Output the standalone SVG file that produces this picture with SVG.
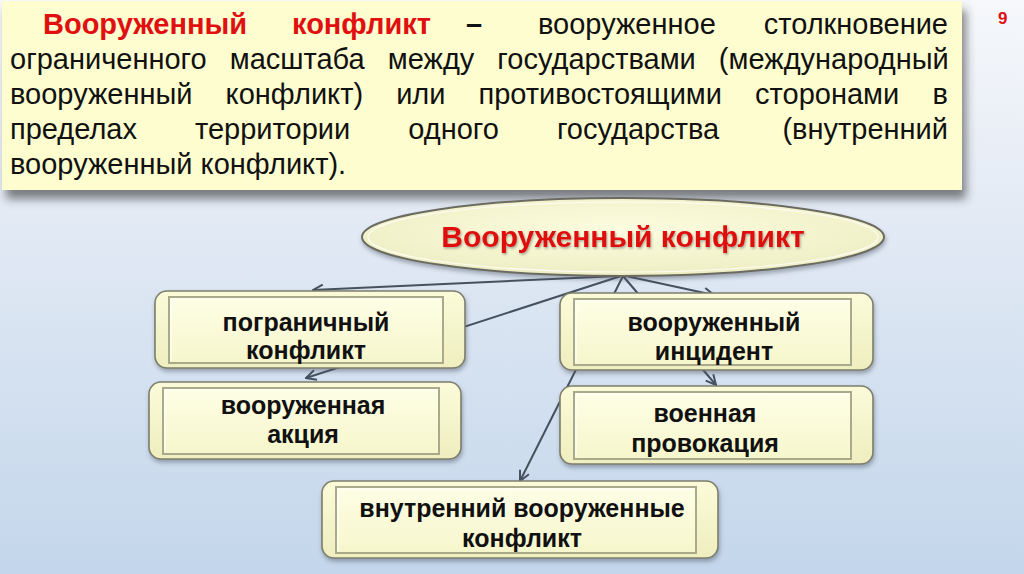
<svg xmlns="http://www.w3.org/2000/svg" width="1024" height="574" viewBox="0 0 1024 574">
<defs>
<linearGradient id="bg" x1="0" y1="0" x2="0" y2="1"><stop offset="0" stop-color="#f6f8fb"/><stop offset="0.35" stop-color="#e4ebf5"/><stop offset="1" stop-color="#c3d6eb"/></linearGradient>
<linearGradient id="yel" x1="0" y1="0" x2="0" y2="1"><stop offset="0" stop-color="#fbfbd9"/><stop offset="1" stop-color="#eeeebf"/></linearGradient>
<linearGradient id="inner" x1="0" y1="0" x2="0" y2="1"><stop offset="0" stop-color="#fefee6"/><stop offset="1" stop-color="#f6f6cc"/></linearGradient>
<radialGradient id="ell" cx="0.5" cy="0.4" r="0.6"><stop offset="0" stop-color="#fdfde0"/><stop offset="1" stop-color="#eeeec4"/></radialGradient>
<filter id="sh" x="-5%" y="-10%" width="115%" height="135%"><feDropShadow dx="1" dy="3" stdDeviation="2" flood-color="#4a5560" flood-opacity="0.45"/></filter>
<filter id="bigsh" x="-3%" y="-5%" width="108%" height="125%"><feDropShadow dx="4" dy="9" stdDeviation="5" flood-color="#333" flood-opacity="0.6"/></filter>
<filter id="tsh" x="-5%" y="-20%" width="110%" height="150%"><feDropShadow dx="1" dy="1.5" stdDeviation="1" flood-color="#555" flood-opacity="0.5"/></filter>
<marker id="arr" viewBox="0 0 12 12" refX="11" refY="6" markerWidth="12" markerHeight="12" markerUnits="userSpaceOnUse" orient="auto"><path d="M1,1 L11,6 L1,11" fill="none" stroke="#45515e" stroke-width="2"/></marker>
</defs>
<style>
.def{font-family:"Liberation Sans",Arial,sans-serif;font-size:29px;fill:#111}
.red{font-weight:bold;fill:#e01010}
.b{font-weight:bold}
.lbl{font-family:"Liberation Sans",Arial,sans-serif;font-size:25px;font-weight:bold;fill:#111;text-anchor:middle}
.obox{fill:url(#yel);stroke:#7d7d6c;stroke-width:1.6}
.ibox{fill:url(#inner);stroke:#a9a98c;stroke-width:2}
.hl{fill:none;stroke:#ffffff;stroke-width:1.2;opacity:0.9}
.con{fill:none;stroke:#45515e;stroke-width:2;marker-end:url(#arr)}
</style>
<rect width="1024" height="574" fill="url(#bg)"/>

<g id="definition">
<rect x="2" y="1" width="960" height="189" fill="#fdfdd0" filter="url(#bigsh)"/>
<text class="def" y="34"><tspan class="red" x="43">Вооруженный</tspan><tspan class="red" x="292">конфликт</tspan><tspan class="b" x="466">–</tspan><tspan x="538">вооруженное</tspan></text>
<text class="def" x="948" y="34" text-anchor="end">столкновение</text>
<text class="def" x="10" y="69" word-spacing="15">ограниченного масштаба между государствами (международный</text>
<text class="def" x="10" y="104" word-spacing="25">вооруженный конфликт) или противостоящими сторонами</text>
<text class="def" x="948" y="104" text-anchor="end">в</text>
<text class="def" x="10" y="139" word-spacing="50">пределах территории одного государства</text>
<text class="def" x="948" y="139" text-anchor="end">(внутренний</text>
<text class="def" x="10" y="174">вооруженный конфликт).</text>
</g>
<text x="998" y="24" font-family="Liberation Sans,Arial,sans-serif" font-size="17" font-weight="bold" fill="#e01010">9</text>

<g id="connectors">
<path class="con" d="M618,276 L313,290"/>
<path class="con" d="M621,276 L306,378"/>
<path class="con" d="M626,276 L714,295"/>
<path class="con" d="M623,276 L520,481"/>
<path class="con" d="M623,276 L716,385"/>
</g>

<g id="root">
<ellipse cx="623" cy="237" rx="261" ry="39" fill="url(#ell)" stroke="#6b6b60" stroke-width="2" filter="url(#sh)"/>
<ellipse cx="623" cy="237" rx="255" ry="35" fill="none" stroke="#ffffff" stroke-width="1.2" opacity="0.8"/>
<text x="623" y="247" font-family="Liberation Sans,Arial,sans-serif" font-size="30" font-weight="bold" fill="#e01010" text-anchor="middle" filter="url(#tsh)">Вооруженный конфликт</text>
</g>

<g id="border">
<rect class="obox" x="155" y="291" width="310" height="77" rx="12" filter="url(#sh)"/>
<rect class="ibox" x="169" y="297" width="274" height="66"/>
<path class="hl" d="M171,361 V299 H441"/>
<text class="lbl" x="306" y="331">пограничный</text>
<text class="lbl" x="306" y="359">конфликт</text>
</g>

<g id="action">
<rect class="obox" x="149" y="382" width="312" height="77" rx="12" filter="url(#sh)"/>
<rect class="ibox" x="163" y="388" width="276" height="66"/>
<path class="hl" d="M165,452 V390 H437"/>
<text class="lbl" x="303" y="414">вооруженная</text>
<text class="lbl" x="303" y="443">акция</text>
</g>

<g id="incident">
<rect class="obox" x="560" y="293" width="313" height="77" rx="12" filter="url(#sh)"/>
<rect class="ibox" x="574" y="299" width="277" height="66"/>
<path class="hl" d="M576,363 V301 H849"/>
<text class="lbl" x="714" y="331">вооруженный</text>
<text class="lbl" x="714" y="360">инцидент</text>
</g>

<g id="provocation">
<rect class="obox" x="560" y="386" width="313" height="78" rx="12" filter="url(#sh)"/>
<rect class="ibox" x="574" y="392" width="277" height="67"/>
<path class="hl" d="M576,457 V394 H849"/>
<text class="lbl" x="705" y="422">военная</text>
<text class="lbl" x="705" y="452">провокация</text>
</g>

<g id="internal">
<rect class="obox" x="322" y="481" width="396" height="77" rx="12" filter="url(#sh)"/>
<rect class="ibox" x="336" y="487" width="360" height="66"/>
<path class="hl" d="M338,551 V489 H694"/>
<text class="lbl" x="522" y="517">внутренний вооруженные</text>
<text class="lbl" x="522" y="547">конфликт</text>
</g>
</svg>
